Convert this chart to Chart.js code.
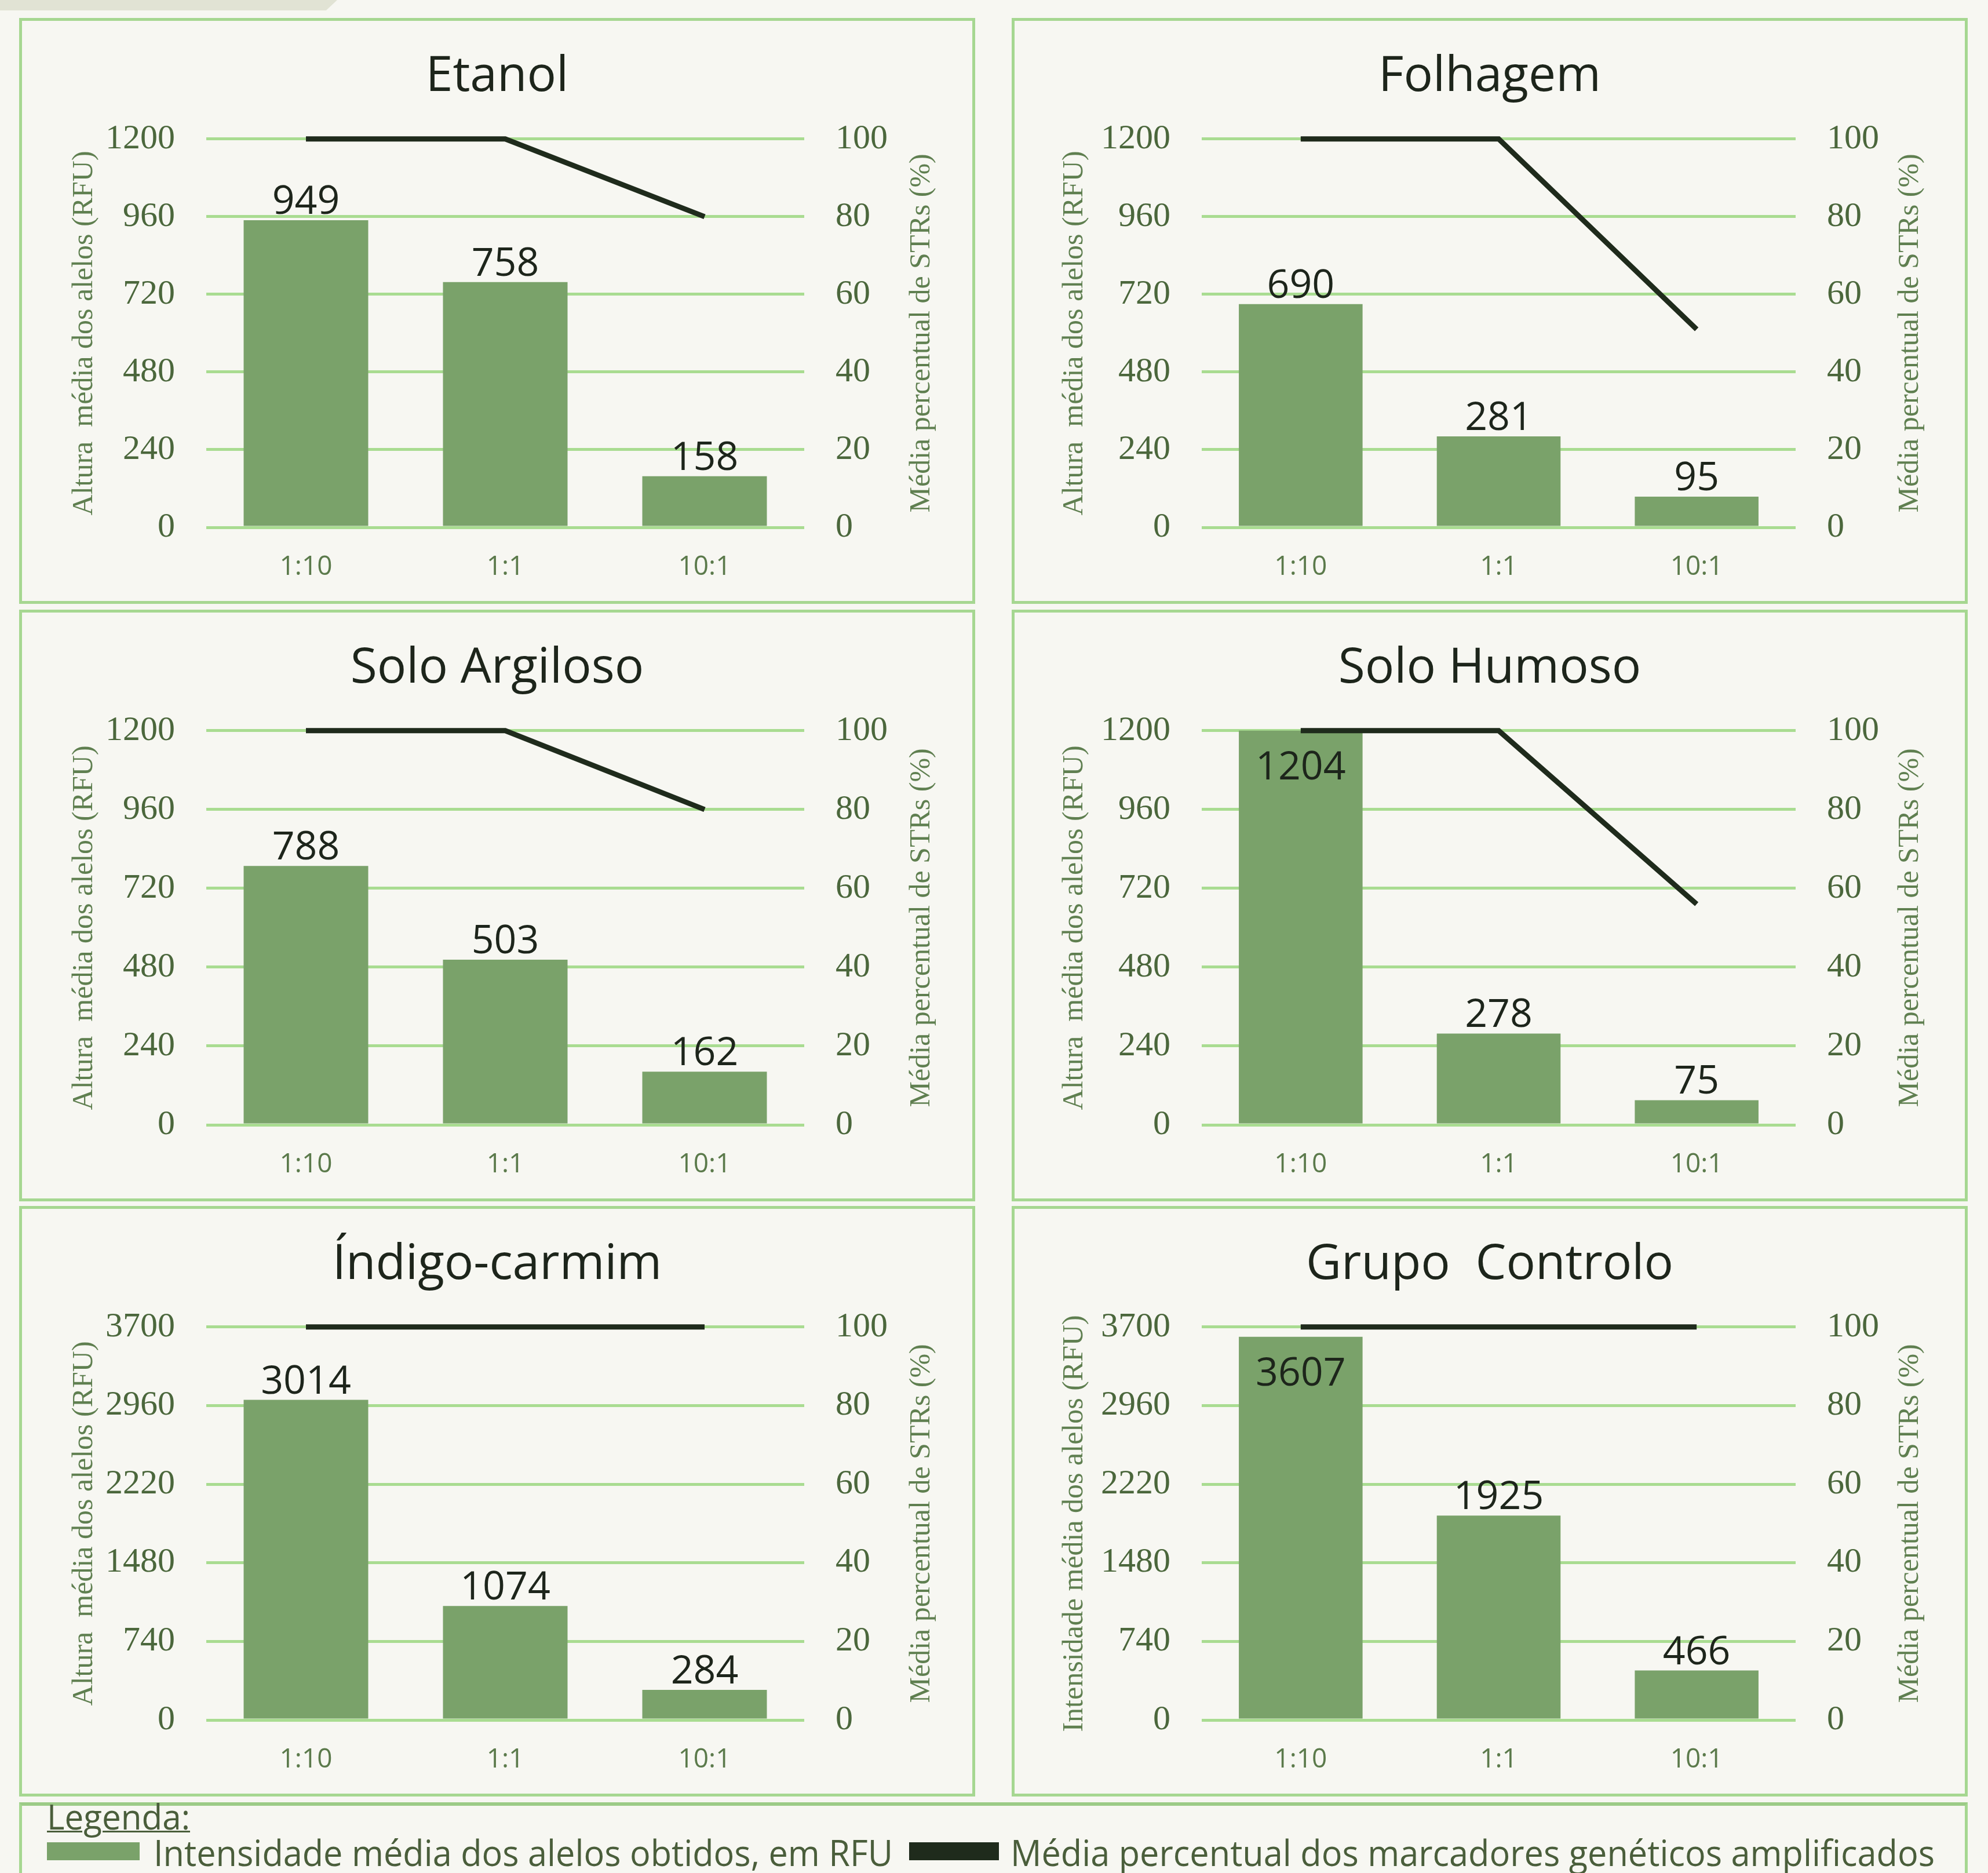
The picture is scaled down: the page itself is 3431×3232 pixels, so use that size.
<!DOCTYPE html>
<html>
<head>
<meta charset="utf-8">
<script src="https://cdn.jsdelivr.net/npm/chart.js@4.4.0/dist/chart.umd.min.js"></script>
<style>
  html, body { margin: 0; padding: 0; width: 3431px; height: 3232px; overflow: hidden; background: #f7f7f2; }
  .tab { position: absolute; left: 0; top: 0; width: 582px; height: 18px; background: #e1e3d4;
         clip-path: polygon(0 0, 100% 0, 96.7% 100%, 0 100%); }
  .panel { position: absolute; box-sizing: border-box; border: 5px solid #a6d791; }
  .panel canvas { position: absolute; left: 0; top: 0; }
  #legendBox { position: absolute; left: 33px; top: 3110px; width: 3363px; height: 200px; box-sizing: border-box;
               border: 5px solid #a6d791; border-top: 6px solid #9ccb87; }
  .lg { position: absolute; font-family: "Open Sans", sans-serif; line-height: 1; color: #4a5e3b;
        white-space: nowrap; transform-origin: left top; }
  .sw { position: absolute; }
</style>
</head>
<body>
<div class="tab"></div>
<div id="panels"></div>

<div id="legendBox"></div>
<div class="lg fit" data-w="247" style="left:81px; top:3104px; font-size:60px; text-decoration: underline; text-decoration-thickness: 3px;">Legenda:</div>
<div class="sw" style="left:81px; top:3179px; width:160px; height:31px; background:#7aa26a;"></div>
<div class="lg fit" data-w="1276" style="left:265px; top:3164px; font-size:63px;">Intensidade média dos alelos obtidos, em RFU</div>
<div class="sw" style="left:1569px; top:3179px; width:155px; height:31px; background:#1f2b1c;"></div>
<div class="lg fit" data-w="1595" style="left:1744px; top:3164px; font-size:63px;">Média percentual dos marcadores genéticos amplificados</div>

<script>
// data
const categories = ['1:10', '1:1', '10:1'];
const pctTicks = [0, 20, 40, 60, 80, 100];
const rfuTicksLow = [0, 240, 480, 720, 960, 1200];
const rfuTicksHigh = [0, 740, 1480, 2220, 2960, 3700];

const etanolRFU = [949, 758, 158];
const etanolPct = [100, 100, 80];
const folhagemRFU = [690, 281, 95];
const folhagemPct = [100, 100, 51];
const argilosoRFU = [788, 503, 162];
const argilosoPct = [100, 100, 80];
const humosoRFU = [1204, 278, 75];
const humosoPct = [100, 100, 56];
const indigoRFU = [3014, 1074, 284];
const indigoPct = [100, 100, 100];
const controloRFU = [3607, 1925, 466];
const controloPct = [100, 100, 100];

const BAR = '#7aa26a';
const LINE = '#1f2b1c';
const GRID = '#a9dc91';
const DARK = '#1d251b';
const TICK = '#4b673c';
const AXTITLE = '#5f7f50';
const CAT = '#5b7a4b';

// panel geometry
const PANEL_W = 1650, BORDER = 5;
const cols = [
  { left: 33, padL: 318, padR: 290, leftTitle: 108, rightTitle: 87 },
  { left: 1746, padL: 323, padR: 292, leftTitle: 104, rightTitle: 94 }
];
const rows = [
  { top: 31, height: 1011 },
  { top: 1052, height: 1021 },
  { top: 2081, height: 1019 }
];

const panels = [
  { title: 'Etanol', rfu: etanolRFU, pct: etanolPct, ticks: rfuTicksLow, yTitle: 'Altura  média dos alelos (RFU)', col: 0, row: 0 },
  { title: 'Folhagem', rfu: folhagemRFU, pct: folhagemPct, ticks: rfuTicksLow, yTitle: 'Altura  média dos alelos (RFU)', col: 1, row: 0 },
  { title: 'Solo Argiloso', rfu: argilosoRFU, pct: argilosoPct, ticks: rfuTicksLow, yTitle: 'Altura  média dos alelos (RFU)', col: 0, row: 1 },
  { title: 'Solo Humoso', rfu: humosoRFU, pct: humosoPct, ticks: rfuTicksLow, yTitle: 'Altura  média dos alelos (RFU)', col: 1, row: 1 },
  { title: 'Índigo-carmim', rfu: indigoRFU, pct: indigoPct, ticks: rfuTicksHigh, yTitle: 'Altura  média dos alelos (RFU)', col: 0, row: 2 },
  { title: 'Grupo  Controlo', rfu: controloRFU, pct: controloPct, ticks: rfuTicksHigh, yTitle: 'Intensidade média dos alelos (RFU)', col: 1, row: 2 }
];

// value labels above bars (inside when there is no room)
const valueLabels = {
  id: 'valueLabels',
  afterDatasetsDraw(chart) {
    const meta = chart.getDatasetMeta(0);
    const area = chart.chartArea;
    const ctx = chart.ctx;
    ctx.save();
    ctx.font = '68px "Open Sans"';
    ctx.fillStyle = DARK;
    ctx.textAlign = 'center';
    ctx.textBaseline = 'alphabetic';
    meta.data.forEach((bar, i) => {
      const v = chart.data.datasets[0].data[i];
      const top = Math.max(bar.y, area.top);
      const y = top - area.top < 60 ? top + 84 : top - 11;
      ctx.fillText(String(v), bar.x, y);
    });
    ctx.restore();
  }
};

// right axis title reads bottom to top
const rightTitle = {
  id: 'rightTitle',
  afterDraw(chart, args, opts) {
    const { ctx, chartArea, width } = chart;
    ctx.save();
    ctx.translate(width - opts.offset, (chartArea.top + chartArea.bottom) / 2);
    ctx.rotate(-Math.PI / 2);
    ctx.font = '50px "Liberation Serif"';
    ctx.fillStyle = AXTITLE;
    ctx.textAlign = 'center';
    ctx.textBaseline = 'middle';
    ctx.fillText(opts.text, 0, 0);
    ctx.restore();
  }
};

function build() {
  const holder = document.getElementById('panels');
  panels.forEach(p => {
    const col = cols[p.col], row = rows[p.row];
    const div = document.createElement('div');
    div.className = 'panel';
    Object.assign(div.style, {
      left: col.left + 'px', top: row.top + 'px',
      width: PANEL_W + 'px', height: row.height + 'px'
    });
    const canvas = document.createElement('canvas');
    canvas.width = PANEL_W - 2 * BORDER;
    canvas.height = row.height - 2 * BORDER;
    div.appendChild(canvas);
    holder.appendChild(div);

    new Chart(canvas, {
      data: {
        labels: categories,
        datasets: [
          { type: 'bar', data: p.rfu, backgroundColor: BAR, yAxisID: 'y', order: 1,
            barPercentage: 0.625, categoryPercentage: 1, clip: 0 },
          { type: 'line', data: p.pct, borderColor: LINE, borderWidth: 9, pointRadius: 0,
            yAxisID: 'y2', order: 0, clip: false, tension: 0, fill: false }
        ]
      },
      options: {
        responsive: false,
        animation: false,
        layout: { padding: 0 },
        plugins: {
          legend: { display: false },
          tooltip: { enabled: false },
          title: {
            display: true, text: p.title, color: DARK,
            font: { family: 'Open Sans', size: 84, weight: 'normal', lineHeight: 1.2 },
            padding: { top: 47, bottom: 56 }
          },
          rightTitle: { text: 'Média percentual de STRs (%)', offset: col.rightTitle }
        },
        scales: {
          x: {
            grid: { display: false, drawTicks: false },
            border: { display: false },
            ticks: { color: CAT, font: { family: 'Open Sans', size: 46 }, padding: 41 },
            afterFit: s => { s.height = 127; }
          },
          y: {
            position: 'left',
            min: 0, max: p.ticks[p.ticks.length - 1],
            afterBuildTicks: s => { s.ticks = p.ticks.map(v => ({ value: v })); },
            grid: { color: GRID, lineWidth: 5, drawTicks: false },
            border: { display: false },
            ticks: { color: TICK, font: { family: 'Liberation Serif', size: 60 }, padding: 54,
                     callback: v => String(v) },
            title: {
              display: true, text: p.yTitle, color: AXTITLE,
              font: { family: 'Liberation Serif', size: 50, lineHeight: 1.2 },
              padding: { top: col.leftTitle - 30, bottom: 0 }
            },
            afterFit: s => { s.width = col.padL; }
          },
          y2: {
            position: 'right',
            min: 0, max: 100,
            afterBuildTicks: s => { s.ticks = pctTicks.map(v => ({ value: v })); },
            grid: { display: false, drawTicks: false },
            border: { display: false },
            ticks: { color: TICK, font: { family: 'Liberation Serif', size: 60 }, padding: 54,
                     callback: v => String(v) },
            afterFit: s => { s.width = col.padR; }
          }
        }
      },
      plugins: [valueLabels, rightTitle]
    });
  });

  // squeeze legend texts to the widths seen in the picture
  document.querySelectorAll('.fit').forEach(el => {
    const w = el.getBoundingClientRect().width;
    el.style.transform = 'scaleX(' + (Number(el.dataset.w) / w) + ')';
  });
}

Promise.all([
  document.fonts.load('68px "Open Sans"'),
  document.fonts.load('60px "Liberation Serif"')
]).then(build, build);
</script>
</body>
</html>
